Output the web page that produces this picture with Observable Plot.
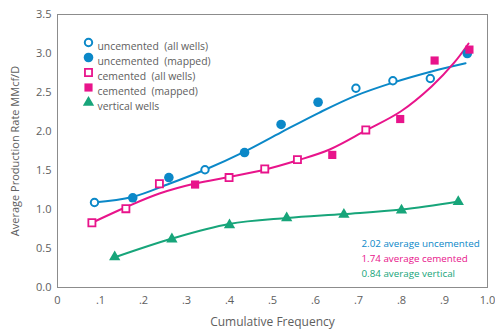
<!DOCTYPE html>
<html><head><meta charset="utf-8">
<script src="https://cdn.jsdelivr.net/npm/d3@7"></script>
<script src="https://cdn.jsdelivr.net/npm/@observablehq/plot@0.6"></script>
<style>
body{margin:0;background:#fff}
</style></head><body><div id="chart"></div>
<script>
// ---- data ----
const xTicks = [0, 0.1, 0.2, 0.3, 0.4, 0.5, 0.6, 0.7, 0.8, 0.9, 1.0];
const xTickLabels = ["0", ".1", ".2", ".3", ".4", ".5", ".6", ".7", ".8", ".9", "1.0"];
const yTicks = [0, 0.5, 1.0, 1.5, 2.0, 2.5, 3.0, 3.5];
const yTickLabels = ["0.0", "0.5", "1.0", "1.5", "2.0", "2.5", "3.0", "3.5"];

const uncemAllX = [0.086, 0.343, 0.694, 0.780, 0.867];
const uncemAllY = [1.09, 1.51, 2.555, 2.65, 2.68];
const uncemMapX = [0.175, 0.259, 0.435, 0.520, 0.606, 0.953];
const uncemMapY = [1.15, 1.41, 1.73, 2.09, 2.375, 3.00];
const cemAllX = [0.080, 0.159, 0.237, 0.399, 0.482, 0.558, 0.717];
const cemAllY = [0.83, 1.01, 1.33, 1.41, 1.52, 1.64, 2.02];
const cemMapX = [0.320, 0.639, 0.797, 0.877, 0.958];
const cemMapY = [1.32, 1.70, 2.16, 2.91, 3.05];
const vertX = [0.133, 0.266, 0.400, 0.533, 0.666, 0.800, 0.932];
const vertY = [0.39, 0.62, 0.80, 0.89, 0.935, 0.99, 1.10];

// trend curves
const uncemFitX = [0.084, 0.174, 0.260, 0.343, 0.434, 0.520, 0.608, 0.694, 0.782, 0.870, 0.949];
const uncemFitY = [1.09, 1.16, 1.33, 1.51, 1.74, 1.99, 2.24, 2.46, 2.63, 2.77, 2.875];
const cemFitX = [0.079, 0.160, 0.237, 0.320, 0.399, 0.483, 0.557, 0.633, 0.717, 0.798, 0.870, 0.923, 0.956];
const cemFitY = [0.827, 1.032, 1.205, 1.333, 1.417, 1.513, 1.628, 1.769, 2.013, 2.256, 2.577, 2.885, 3.128];
const vertFitX = [0.132, 0.267, 0.399, 0.534, 0.666, 0.800, 0.933];
const vertFitY = [0.385, 0.628, 0.814, 0.891, 0.942, 1.000, 1.103];

const legendLabels = ["uncemented\u00a0 (all wells)", "uncemented\u00a0 (mapped)", "cemented\u00a0 (all wells)", "cemented\u00a0 (mapped)", "vertical wells"];
const avgValues = ["2.02", "1.74", "0.84"];
const avgLabels = ["average uncemented", "average cemented", "average vertical"];

// ---- styles ----
const BLUE = "#0b88c8", PINK = "#e8148b", GREEN = "#17a57a", GREY = "#5e5e5e";
const seriesStyle = [
  {symbol: "circle", fill: "white", stroke: BLUE, r: 3.7, strokeWidth: 2},
  {symbol: "circle", fill: BLUE, stroke: "none", r: 4.8, strokeWidth: 0},
  {symbol: "square", fill: "white", stroke: PINK, r: 4.0, strokeWidth: 1.8},
  {symbol: "square", fill: PINK, stroke: "none", r: 4.6, strokeWidth: 0},
  {symbol: "triangle", fill: GREEN, stroke: "none", r: 4.2, strokeWidth: 0}
];
const avgColors = [BLUE, PINK, GREEN];

const pts = (xs, ys) => xs.map((x, i) => ({x, y: ys[i]}));
const series = [
  pts(uncemAllX, uncemAllY), pts(uncemMapX, uncemMapY),
  pts(cemAllX, cemAllY), pts(cemMapX, cemMapY), pts(vertX, vertY)
];

const font = "'Open Sans', sans-serif";

const marks = [
  Plot.frame({stroke: "#8c8c8c", strokeWidth: 1}),
  Plot.axisX({ticks: xTicks, tickFormat: (d, i) => xTickLabels[i], tickSize: 0, tickPadding: 9, label: null, fontSize: 11, fill: GREY}),
  Plot.axisY({ticks: yTicks, tickFormat: (d, i) => yTickLabels[i], tickSize: 0, tickPadding: 6, label: null, fontSize: 11, fill: GREY}),
  Plot.text(["Cumulative Frequency"], {frameAnchor: "bottom", dy: 38, text: d => d, fontSize: 12, fill: GREY}),
  Plot.text(["Average Production Rate MMcf/D"], {frameAnchor: "left", dx: -42, rotate: -90, textAnchor: "middle", text: d => d, fontSize: 11, fill: GREY}),
  Plot.line(pts(uncemFitX, uncemFitY), {x: "x", y: "y", stroke: BLUE, strokeWidth: 2, curve: "catmull-rom"}),
  Plot.line(pts(cemFitX, cemFitY), {x: "x", y: "y", stroke: PINK, strokeWidth: 2, curve: "catmull-rom"}),
  Plot.line(pts(vertFitX, vertFitY), {x: "x", y: "y", stroke: GREEN, strokeWidth: 2, curve: "catmull-rom"}),
  ...series.map((s, i) => Plot.dot(s, {x: "x", y: "y", ...seriesStyle[i]})),
  ...legendLabels.map((lab, i) => Plot.dot([lab], {frameAnchor: "top-left", dx: 31, dy: 28 + i * 15, ...seriesStyle[i]})),
  ...legendLabels.map((lab, i) => Plot.text([lab], {frameAnchor: "top-left", dx: 40, dy: 28 + i * 15, text: d => d, textAnchor: "start", fontSize: 10.4, fill: GREY})),
  ...avgLabels.map((lab, i) => Plot.text([avgValues[i] + " " + lab], {frameAnchor: "bottom-left", dx: 304, dy: -41 + i * 15, text: d => d, textAnchor: "start", fontSize: 9.8, fill: avgColors[i]}))
];

const chart = Plot.plot({
  width: 495, height: 335,
  marginLeft: 57, marginRight: 8, marginTop: 14, marginBottom: 48,
  x: {domain: [0, 1]},
  y: {domain: [0, 3.5]},
  style: {fontFamily: font, background: "white", color: GREY},
  marks
});
document.getElementById("chart").appendChild(chart);
</script></body></html>
